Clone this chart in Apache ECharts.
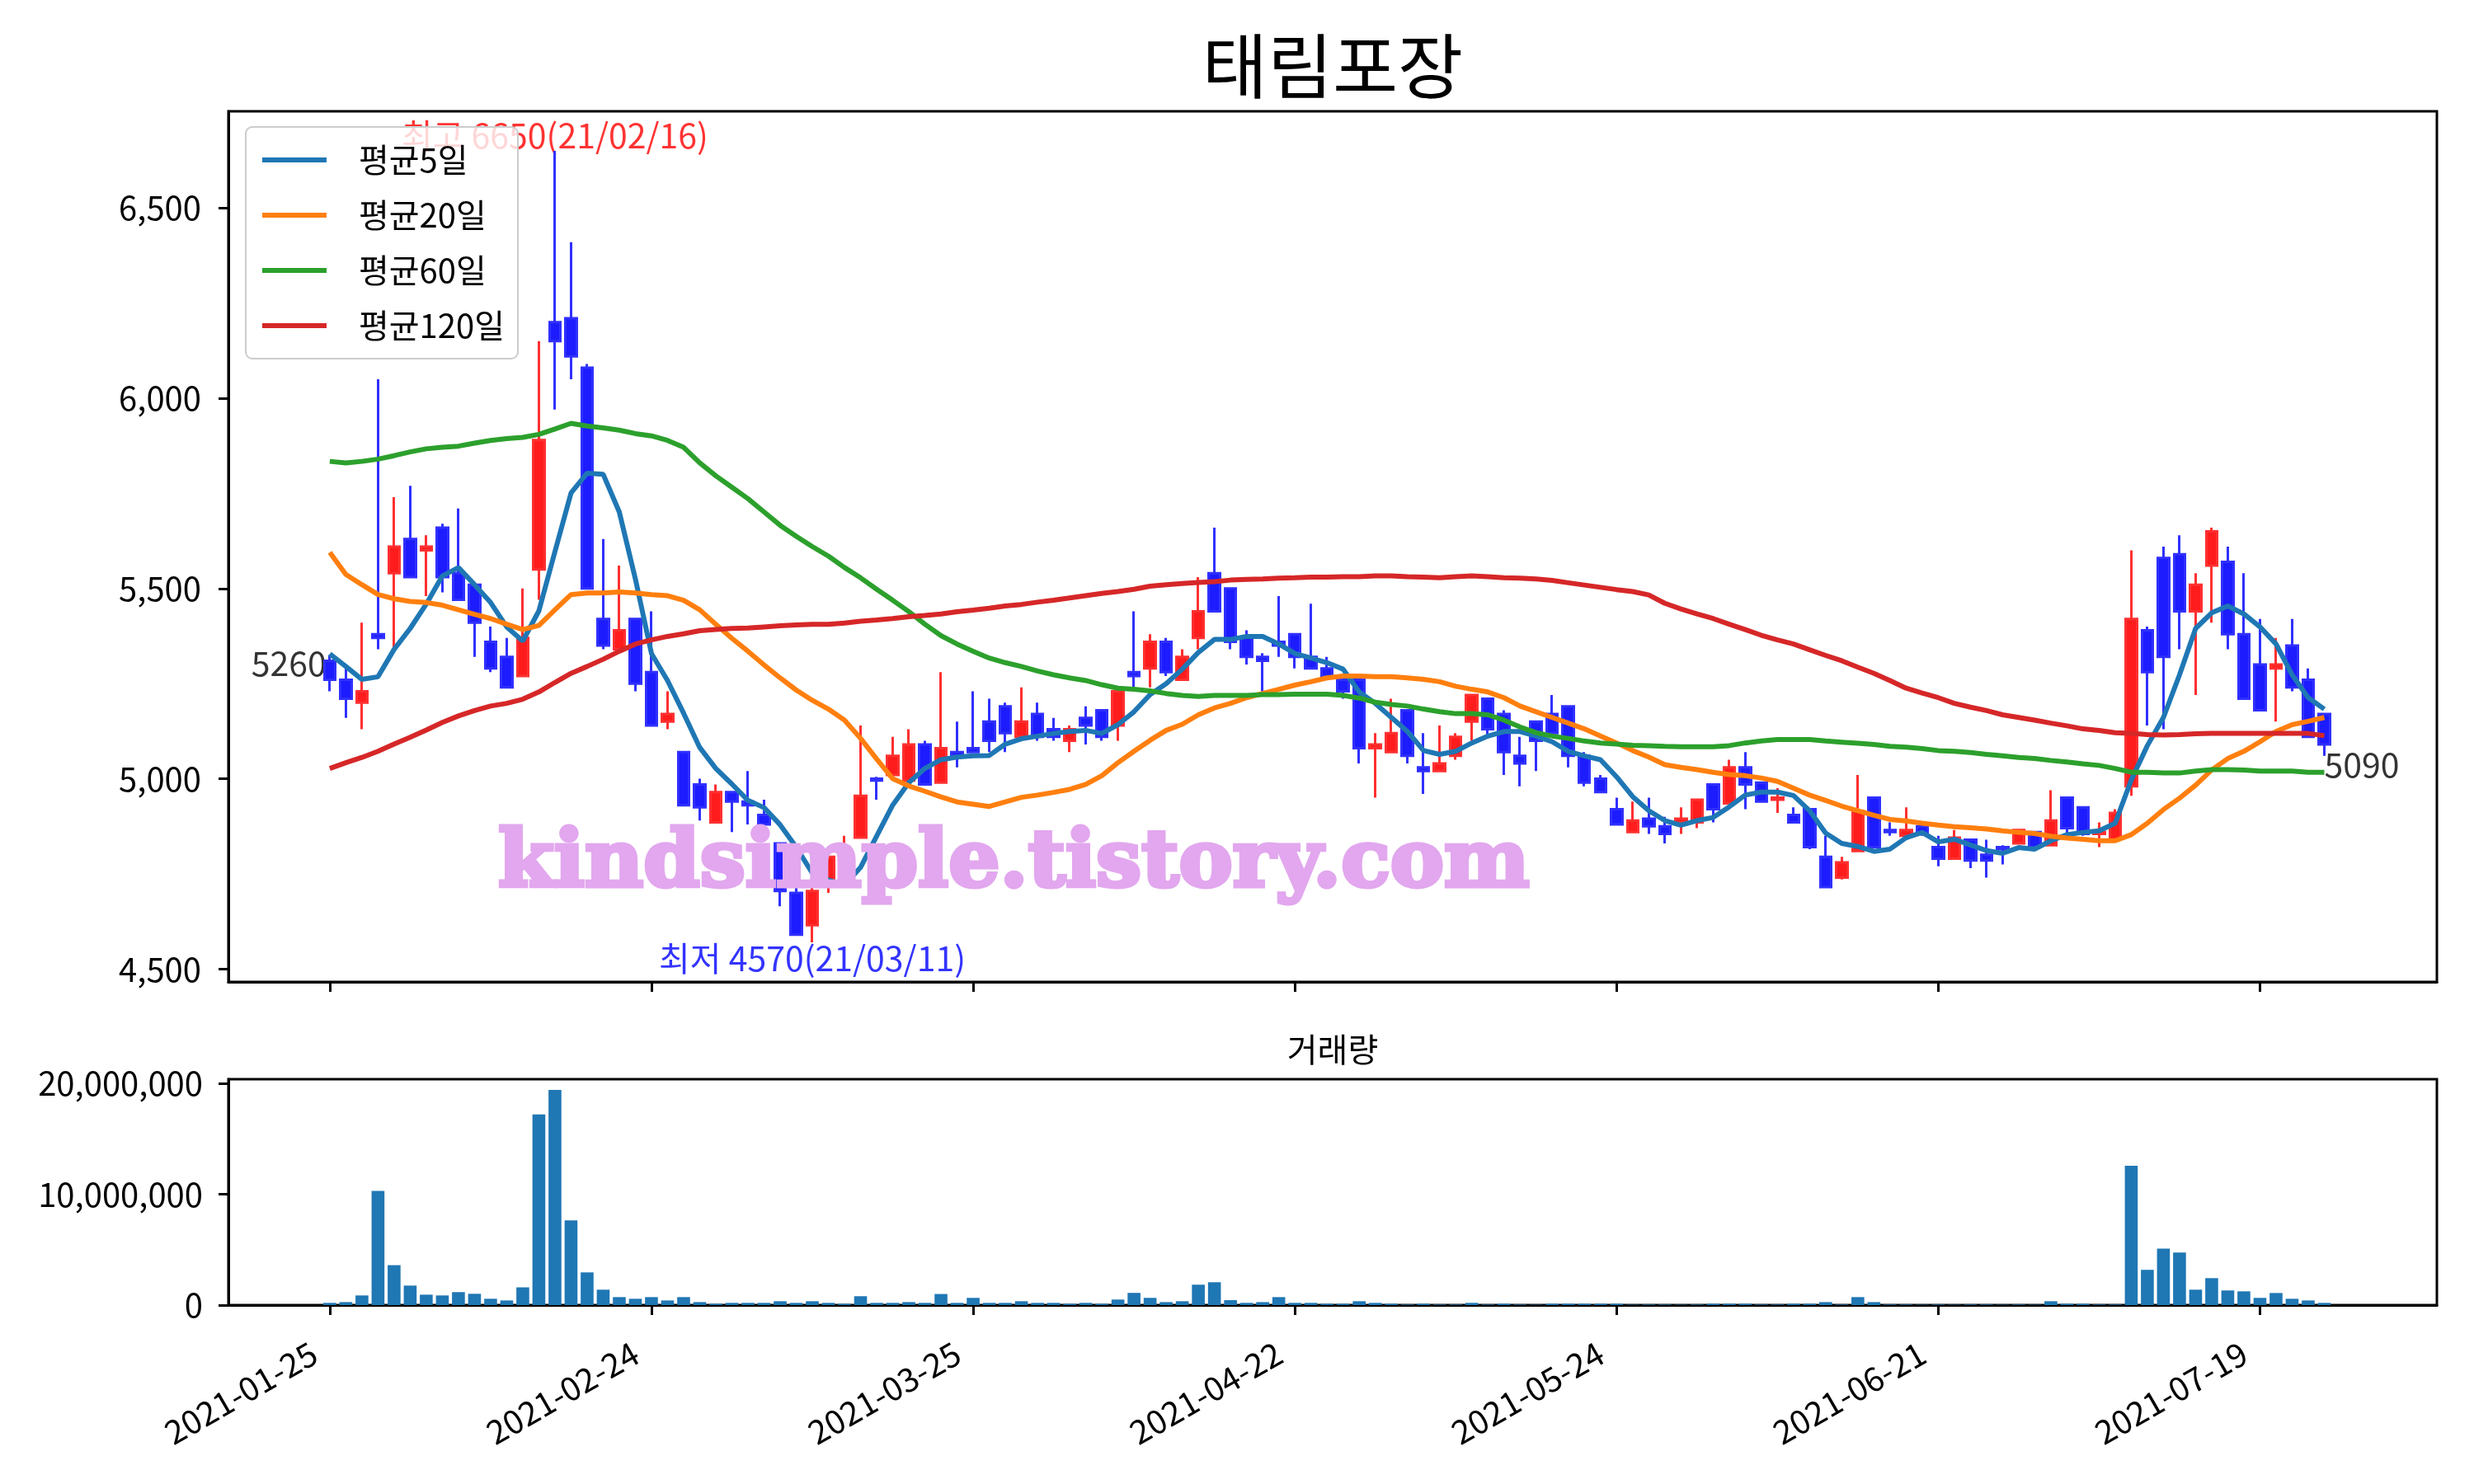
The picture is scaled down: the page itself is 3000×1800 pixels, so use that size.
<!DOCTYPE html>
<html>
<head>
<meta charset="utf-8">
<script src="https://cdn.jsdelivr.net/npm/echarts@6/dist/echarts.min.js"></script>
<style type="text/css">
  html, body { margin: 0; padding: 0; background: #fff; }
  #chart { width: 3000px; height: 1800px; }
</style>
</head>
<body>
<div id="chart"></div>
<script type="text/javascript">
// trading days, 2021-01-25 .. 2021-07-23
var dates = [
  '2021-01-25','2021-01-26','2021-01-27','2021-01-28','2021-01-29',
  '2021-02-01','2021-02-02','2021-02-03','2021-02-04','2021-02-05',
  '2021-02-08','2021-02-09','2021-02-10','2021-02-15','2021-02-16',
  '2021-02-17','2021-02-18','2021-02-19','2021-02-22','2021-02-23',
  '2021-02-24','2021-02-25','2021-02-26','2021-03-02','2021-03-03',
  '2021-03-04','2021-03-05','2021-03-08','2021-03-09','2021-03-10',
  '2021-03-11','2021-03-12','2021-03-15','2021-03-16','2021-03-17',
  '2021-03-18','2021-03-19','2021-03-22','2021-03-23','2021-03-24',
  '2021-03-25','2021-03-26','2021-03-29','2021-03-30','2021-03-31',
  '2021-04-01','2021-04-02','2021-04-05','2021-04-06','2021-04-07',
  '2021-04-08','2021-04-09','2021-04-12','2021-04-13','2021-04-14',
  '2021-04-15','2021-04-16','2021-04-19','2021-04-20','2021-04-21',
  '2021-04-22','2021-04-23','2021-04-26','2021-04-27','2021-04-28',
  '2021-04-29','2021-04-30','2021-05-03','2021-05-04','2021-05-06',
  '2021-05-07','2021-05-10','2021-05-11','2021-05-12','2021-05-13',
  '2021-05-14','2021-05-17','2021-05-18','2021-05-20','2021-05-21',
  '2021-05-24','2021-05-25','2021-05-26','2021-05-27','2021-05-28',
  '2021-05-31','2021-06-01','2021-06-02','2021-06-03','2021-06-04',
  '2021-06-07','2021-06-08','2021-06-09','2021-06-10','2021-06-11',
  '2021-06-14','2021-06-15','2021-06-16','2021-06-17','2021-06-18',
  '2021-06-21','2021-06-22','2021-06-23','2021-06-24','2021-06-25',
  '2021-06-28','2021-06-29','2021-06-30','2021-07-01','2021-07-02',
  '2021-07-05','2021-07-06','2021-07-07','2021-07-08','2021-07-09',
  '2021-07-12','2021-07-13','2021-07-14','2021-07-15','2021-07-16',
  '2021-07-19','2021-07-20','2021-07-21','2021-07-22','2021-07-23'
];

var opens = [
  5310,5260,5200,5380,5540, 5630,5600,5660,5540,5510, 5360,5320,5270,5550,6200,
  6210,6080,5420,5340,5420, 5280,5150,5070,4985,4885, 4965,4940,4905,4830,4700,
  4615,4725,4790,4845,5000, 5010,4995,5090,4990,5070, 5080,5150,5190,5110,5170,
  5130,5100,5160,5180,5140, 5280,5290,5360,5260,5370, 5540,5500,5370,5320,5360,
  5380,5320,5290,5260,5260, 5080,5070,5180,5030,5020, 5060,5150,5210,5170,5060,
  5150,5170,5190,5060,5000, 4920,4860,4895,4875,4885, 4885,4985,4935,5030,4990,
  4945,4905,4920,4795,4740, 4810,4950,4865,4850,4875, 4820,4790,4840,4800,4820,
  4830,4860,4825,4950,4925, 4855,4840,4980,5390,5580, 5590,5440,5560,5570,5380,
  5300,5290,5350,5260,5170
];
var closes = [
  5260,5210,5230,5370,5610, 5530,5610,5530,5470,5410, 5290,5240,5370,5890,6150,
  6110,5500,5350,5390,5250, 5140,5170,4930,4925,4965, 4940,4930,4880,4705,4590,
  4705,4795,4820,4955,4995, 5060,5090,4985,5080,5060, 5070,5100,5120,5150,5110,
  5110,5130,5140,5110,5230, 5270,5360,5280,5320,5440, 5440,5360,5320,5310,5350,
  5320,5290,5270,5230,5080, 5090,5120,5060,5020,5040, 5110,5220,5130,5070,5040,
  5100,5120,5060,4990,4965, 4880,4890,4875,4855,4895, 4945,4920,5030,4985,4940,
  4950,4885,4820,4715,4780, 4915,4820,4860,4865,4855, 4790,4845,4785,4785,4815,
  4865,4820,4890,4870,4855, 4860,4910,5420,5280,5320, 5440,5510,5650,5380,5210,
  5180,5300,5240,5110,5090
];
var lows = [
  5230,5160,5130,5340,5340, 5530,5480,5490,5470,5320, 5280,5240,5270,5470,5970,
  6050,5500,5340,5340,5230, 5140,5130,4930,4890,4885, 4860,4880,4880,4665,4590,
  4570,4700,4760,4845,4945, 5000,4995,4985,4990,5030, 5070,5070,5070,5110,5100,
  5100,5070,5090,5100,5100, 5240,5240,5270,5260,5340, 5440,5340,5300,5230,5320,
  5290,5290,5270,5210,5040, 4950,5070,5040,4960,5020, 5050,5100,5110,5010,4980,
  5020,5120,5030,4980,4965, 4880,4860,4855,4830,4855, 4870,4885,4935,4920,4940,
  4910,4885,4815,4715,4735, 4810,4820,4850,4845,4850, 4770,4790,4765,4740,4775,
  4830,4820,4825,4855,4850, 4820,4840,4955,5140,5130, 5340,5220,5410,5340,5210,
  5180,5150,5230,5110,5060
];
var highs = [
  5325,5295,5410,6050,5740, 5770,5640,5670,5710,5510, 5400,5370,5500,6150,6650,
  6410,6090,5630,5560,5420, 5440,5230,5070,5000,4985, 4965,5020,4945,4830,4725,
  4725,4800,4850,5140,5005, 5110,5130,5100,5280,5150, 5230,5210,5200,5240,5200,
  5160,5140,5190,5180,5230, 5440,5380,5370,5340,5530, 5660,5500,5390,5330,5480,
  5380,5460,5320,5260,5260, 5120,5210,5180,5120,5140, 5120,5220,5210,5180,5110,
  5150,5220,5190,5070,5010, 4950,4940,4950,4900,4925, 4945,4985,5050,5070,4990,
  4975,4925,4920,4850,4795, 5010,4950,4885,4925,4885, 4850,4865,4840,4840,4825,
  4865,4860,4970,4950,4925, 4885,4920,5600,5400,5610, 5640,5540,5660,5610,5540,
  5420,5370,5420,5290,5170
];
var volumes = [
  200000,270000,870000,10300000,3600000, 1760000,940000,870000,1170000,1020000,
  570000,420000,1600000,17200000,19400000, 7640000,2950000,1390000,720000,570000,
  720000,420000,720000,270000,120000, 200000,200000,200000,350000,200000,
  350000,200000,120000,800000,200000, 200000,270000,200000,1000000,200000,
  650000,200000,200000,350000,200000, 200000,120000,200000,120000,500000,
  1100000,650000,270000,350000,1840000, 2060000,450000,200000,270000,720000,
  200000,200000,120000,120000,350000, 200000,120000,50000,120000,50000,
  50000,200000,50000,120000,50000, 30000,120000,120000,120000,120000,
  120000,30000,50000,50000,30000, 50000,120000,120000,120000,50000,
  50000,120000,120000,270000,50000, 720000,270000,50000,50000,30000,
  50000,30000,50000,50000,30000, 50000,30000,350000,120000,120000,
  50000,50000,12560000,3180000,5100000, 4740000,1390000,2430000,1320000,1240000,
  650000,1090000,570000,420000,200000
];

var ma5 = [
  5328,5295,5261,5268,5340, 5395,5459,5533,5555,5510, 5463,5399,5362,5441,5597,
  5751,5803,5800,5701,5525, 5329,5258,5172,5082,5027, 4986,4943,4924,4879,4820,
  4752,4734,4720,4767,4849, 4931,4990,5027,5050,5057, 5060,5061,5091,5105,5112,
  5119,5124,5127,5119,5142, 5176,5221,5250,5288,5332, 5366,5366,5374,5374,5354,
  5329,5317,5305,5288,5228, 5198,5161,5124,5074,5064, 5072,5094,5112,5124,5124,
  5112,5097,5072,5060,5050, 5005,4953,4916,4890,4878, 4890,4898,4926,4957,4965,
  4965,4956,4916,4857,4830, 4822,4809,4815,4845,4859, 4834,4841,4826,4811,4804,
  4819,4815,4837,4853,4859, 4863,4883,4997,5087,5161, 5273,5395,5436,5454,5433,
  5399,5354,5273,5213,5183
];
var ma20 = [
  5595,5537,5510,5484,5473, 5466,5463,5456,5444,5432, 5421,5406,5392,5403,5444,
  5484,5488,5488,5491,5488, 5484,5481,5469,5444,5406, 5369,5335,5299,5265,5233,
  5206,5183,5154,5106,5052, 5000,4981,4967,4952,4939, 4933,4927,4939,4951,4957,
  4964,4972,4985,5008,5042, 5072,5101,5127,5143,5168, 5186,5198,5213,5224,5235,
  5246,5255,5265,5270,5270, 5268,5268,5265,5261,5255, 5243,5235,5228,5213,5191,
  5176,5161,5146,5131,5112, 5094,5074,5057,5037,5030, 5024,5017,5011,5008,5002,
  4993,4975,4957,4943,4928, 4916,4904,4893,4889,4883, 4878,4874,4871,4868,4863,
  4859,4856,4849,4844,4841, 4837,4837,4853,4883,4919, 4949,4983,5023,5053,5072,
  5097,5124,5142,5151,5161
];
var ma60 = [
  5834,5830,5834,5840,5849, 5859,5867,5871,5874,5882, 5889,5894,5897,5905,5919,
  5934,5927,5922,5916,5907, 5901,5889,5871,5830,5796, 5766,5736,5701,5666,5637,
  5610,5585,5555,5528,5498, 5469,5439,5406,5376,5354, 5335,5317,5305,5295,5283,
  5273,5265,5258,5247,5238, 5235,5231,5224,5219,5216, 5219,5219,5219,5221,5221,
  5222,5222,5222,5219,5212, 5201,5195,5191,5183,5176, 5171,5171,5168,5154,5136,
  5121,5112,5106,5099,5094, 5091,5088,5087,5085,5084, 5084,5084,5087,5094,5099,
  5103,5103,5103,5099,5096, 5093,5090,5085,5083,5079, 5074,5072,5069,5064,5060,
  5056,5053,5048,5044,5039, 5035,5027,5017,5017,5015, 5015,5020,5024,5024,5023,
  5020,5020,5020,5017,5017
];
var ma120 = [
  5027,5042,5056,5072,5091, 5109,5128,5148,5165,5179, 5191,5198,5209,5228,5253,
  5277,5295,5314,5335,5354, 5365,5374,5381,5389,5392, 5395,5396,5399,5402,5404,
  5406,5406,5409,5414,5417, 5421,5426,5429,5433,5439, 5443,5448,5454,5458,5464,
  5469,5475,5481,5487,5492, 5498,5506,5510,5513,5516, 5518,5522,5524,5525,5527,
  5528,5530,5530,5531,5531, 5533,5533,5531,5530,5528, 5531,5533,5531,5528,5527,
  5525,5521,5515,5509,5503, 5497,5492,5483,5461,5446, 5433,5421,5406,5392,5377,
  5365,5354,5339,5324,5310, 5293,5277,5258,5238,5225, 5213,5198,5188,5179,5168,
  5161,5154,5146,5139,5131, 5127,5121,5119,5116,5115, 5116,5118,5119,5119,5119,
  5119,5119,5119,5119,5113
];

var maNames = ['평균5일', '평균20일', '평균60일', '평균120일'];
var maColors = ['#1f77b4', '#ff7f0e', '#2ca02c', '#d62728'];

var xTickIdx = [0, 20, 40, 60, 80, 100, 120];
var priceTicks = [4500, 5000, 5500, 6000, 6500];
var volumeTicks = [0, 10000000, 20000000];

var FONT = '"Noto Sans CJK KR", "Noto Sans", sans-serif';

function comma(v) {
  return String(v).replace(/\B(?=(\d{3})+(?!\d))/g, ',');
}

// candle rows [index, open, close, low, high]
var candles = opens.map(function (o, i) {
  return [i, o, closes[i], lows[i], highs[i]];
});
var volData = volumes.map(function (v, i) { return [i, v]; });

// highest / lowest points for the two notes
var hiIdx = 0, loIdx = 0;
for (var i = 1; i < highs.length; i++) {
  if (highs[i] > highs[hiIdx]) hiIdx = i;
  if (lows[i] < lows[loIdx]) loIdx = i;
}
function shortDate(d) { return d.slice(2).replace(/-/g, '/'); }
var last = closes.length - 1;

var chart = echarts.init(document.getElementById('chart'));

var xCommon = {
  type: 'value',
  min: -6.3,
  max: 131,
  splitLine: { show: false },
  axisLine: { show: true, onZero: false, lineStyle: { color: '#000', width: 3 } },
  axisTick: { show: true, length: 12, lineStyle: { color: '#000', width: 3 }, customValues: xTickIdx }
};

var series = [{
  name: 'candle',
  type: 'candlestick',
  xAxisIndex: 0,
  yAxisIndex: 0,
  data: candles,
  encode: { x: 0, y: [1, 2, 3, 4] },
  barWidth: 14,
  z: 2,
  itemStyle: {
    color: '#ff1c1c',
    color0: '#1c1cff',
    borderColor: '#ff3030',
    borderColor0: '#3030ff',
    borderWidth: 3
  }
}];

[ma5, ma20, ma60, ma120].forEach(function (arr, k) {
  series.push({
    name: maNames[k],
    type: 'line',
    xAxisIndex: 0,
    yAxisIndex: 0,
    data: arr.map(function (v, i) { return [i, v]; }),
    showSymbol: false,
    symbol: 'none',
    z: 3,
    lineStyle: { color: maColors[k], width: 6 },
    itemStyle: { color: maColors[k] }
  });
});

// notes: high, low, first and last close
series.push({
  name: 'notes',
  type: 'scatter',
  xAxisIndex: 0,
  yAxisIndex: 0,
  symbolSize: 0,
  z: 1,
  silent: true,
  data: [
    { value: [hiIdx, highs[hiIdx]],
      label: { show: true, position: 'inside', offset: [0, -19], color: '#ff0000',
        formatter: '최고 ' + highs[hiIdx] + '(' + shortDate(dates[hiIdx]) + ')' } },
    { value: [loIdx, lows[loIdx]],
      label: { show: true, position: 'inside', offset: [0, 19], color: '#0000ff',
        formatter: '최저 ' + lows[loIdx] + '(' + shortDate(dates[loIdx]) + ')' } },
    { value: [0, closes[0]],
      label: { show: true, position: 'left', distance: 4, offset: [0, -20], color: '#000',
        formatter: String(closes[0]) } },
    { value: [last, closes[last]],
      label: { show: true, position: 'right', distance: 0, offset: [0, 24], color: '#000',
        formatter: String(closes[last]) } }
  ],
  label: { fontSize: 41, fontFamily: FONT }
});

series.push({
  name: '거래량',
  type: 'bar',
  xAxisIndex: 1,
  yAxisIndex: 1,
  data: volData,
  barWidth: 15.6,
  itemStyle: { color: '#1f77b4' }
});

var option = {
  animation: false,
  backgroundColor: '#ffffff',
  textStyle: { fontFamily: FONT },
  grid: [
    { left: 277, top: 135, width: 2678, height: 1056, show: true, borderColor: '#000', borderWidth: 3, backgroundColor: 'transparent' },
    { left: 277, top: 1309, width: 2678, height: 274, show: true, borderColor: '#000', borderWidth: 3, backgroundColor: 'transparent' }
  ],
  legend: {
    data: maNames,
    orient: 'vertical',
    left: 298,
    top: 154,
    icon: 'rect',
    itemWidth: 78,
    itemHeight: 6,
    itemGap: 27,
    padding: [20, 16, 20, 20],
    backgroundColor: 'rgba(255,255,255,0.8)',
    borderColor: '#cccccc',
    borderWidth: 2,
    borderRadius: 8,
    z: 10,
    textStyle: { fontSize: 40, fontFamily: FONT, color: '#000', lineHeight: 36, padding: [0, 0, 0, 34] }
  },
  xAxis: [
    Object.assign({}, xCommon, {
      gridIndex: 0,
      axisLabel: { show: false }
    }),
    Object.assign({}, xCommon, {
      gridIndex: 1,
      axisLabel: {
        show: true,
        customValues: xTickIdx,
        rotate: 30,
        margin: 44,
        padding: [0, 22, 0, 0],
        fontSize: 40,
        fontFamily: FONT,
        color: '#000',
        formatter: function (v) { return dates[Math.round(v)]; }
      }
    })
  ],
  yAxis: [{
    type: 'value',
    gridIndex: 0,
    min: 4466,
    max: 6754,
    splitLine: { show: false },
    axisLine: { show: true, onZero: false, lineStyle: { color: '#000', width: 3 } },
    axisTick: { show: true, length: 12, lineStyle: { color: '#000', width: 3 }, customValues: priceTicks },
    axisLabel: { customValues: priceTicks, margin: 33, fontSize: 40, fontFamily: FONT, color: '#000', formatter: comma }
  }, {
    type: 'value',
    gridIndex: 1,
    min: 0,
    max: 20370000,
    splitLine: { show: false },
    axisLine: { show: true, onZero: false, lineStyle: { color: '#000', width: 3 } },
    axisTick: { show: true, length: 12, lineStyle: { color: '#000', width: 3 }, customValues: volumeTicks },
    axisLabel: { customValues: volumeTicks, margin: 31, fontSize: 40, fontFamily: FONT, color: '#000', formatter: comma }
  }],
  graphic: [{
    type: 'text',
    x: 1616,
    y: 80,
    style: { text: '태림포장', fill: '#000', font: '86px ' + FONT, textAlign: 'center', textVerticalAlign: 'middle' }
  }, {
    type: 'text',
    x: 1616,
    y: 1273,
    style: { text: '거래량', fill: '#000', font: '40px ' + FONT, textAlign: 'center', textVerticalAlign: 'middle' }
  }, {
    type: 'text',
    x: 604,
    y: 1050,
    z: 100,
    scaleX: 1.02,
    style: { text: 'kindsimple.tistory.com', fill: '#e2a7ee', stroke: '#e2a7ee', lineWidth: 5, font: 'bold 96px "DejaVu Serif"', textAlign: 'left', textVerticalAlign: 'middle' }
  }],
  series: series
};

chart.setOption(option);
</script>
</body>
</html>
